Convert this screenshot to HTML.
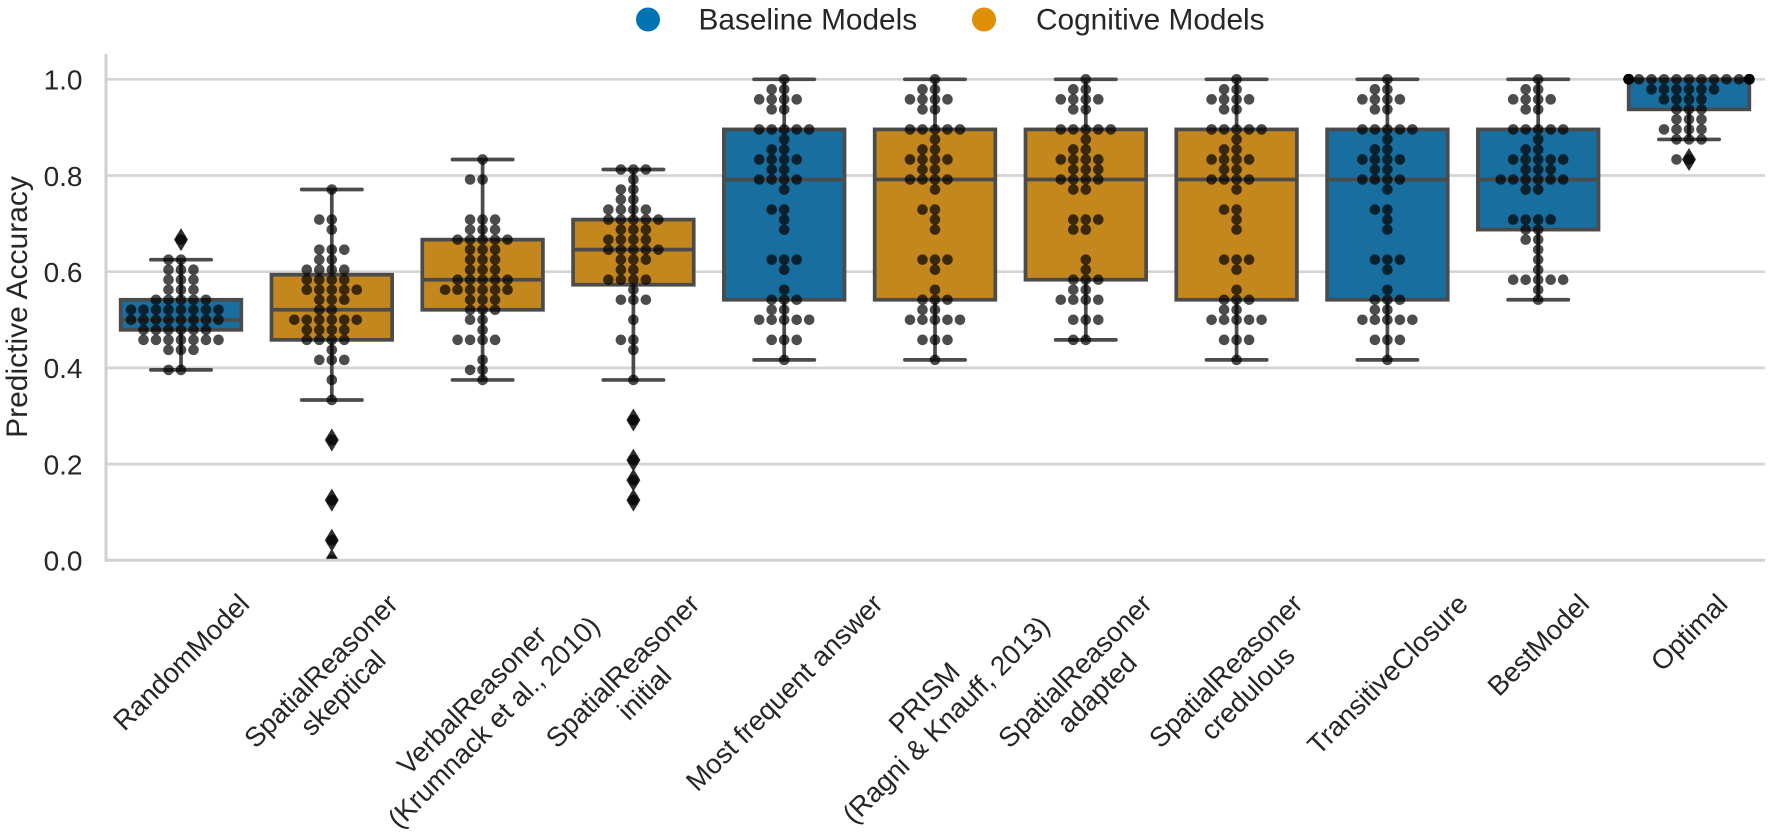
<!DOCTYPE html>
<html lang="en">
<head>
<meta charset="utf-8">
<title>Predictive Accuracy by Model</title>
<style>
html,body{margin:0;padding:0;background:#fff;}
body{width:1772px;height:832px;overflow:hidden;}
svg{display:block;}
text{font-family:"Liberation Sans",Arial,sans-serif;fill:#262626;}
</style>
</head>
<body>
<svg id="chart" xmlns="http://www.w3.org/2000/svg" width="1772" height="832" viewBox="0 0 1772 832">
  <defs>
    <clipPath id="plot-clip"><rect x="105.6" y="55" width="1660" height="505.8"/></clipPath>
  </defs>
  <g id="legend">
    <g>
      <circle cx="648" cy="19.5" r="12" fill="#0173b2"/>
      <text x="698.5" y="29.5" font-size="29.8">Baseline Models</text>
    </g>
    <g>
      <circle cx="984" cy="19.5" r="12" fill="#de8f05"/>
      <text x="1036" y="29.5" font-size="29.8">Cognitive Models</text>
    </g>
  </g>
  <g id="grid"></g>
  <g id="marks" clip-path="url(#plot-clip)"></g>
  <g id="spines">
    <line x1="106" y1="54" x2="106" y2="561.8" stroke="#d0d0d0" stroke-width="3"/>
    <line x1="104.5" y1="560.3" x2="1765" y2="560.3" stroke="#d0d0d0" stroke-width="3"/>
  </g>
  <g id="y-ticks"></g>
  <g id="x-ticks"></g>
  <text transform="translate(27,307) rotate(-90)" text-anchor="middle" font-size="30">Predictive Accuracy</text>
</svg>
<script>
// Scores are counted in correct answers out of 48 trials.
const TRIALS = 48;
const yTickValues = [0, 0.2, 0.4, 0.6, 0.8, 1];
const yTickLabels = ['0.0', '0.2', '0.4', '0.6', '0.8', '1.0'];

const modelLabels = [
  ['RandomModel'],
  ['SpatialReasoner', 'skeptical'],
  ['VerbalReasoner', '(Krumnack et al., 2010)'],
  ['SpatialReasoner', 'initial'],
  ['Most frequent answer'],
  ['PRISM', '(Ragni & Knauff, 2013)'],
  ['SpatialReasoner', 'adapted'],
  ['SpatialReasoner', 'credulous'],
  ['TransitiveClosure'],
  ['BestModel'],
  ['Optimal']
];
const modelGroups = ['baseline', 'cognitive', 'cognitive', 'cognitive', 'baseline', 'cognitive', 'cognitive', 'cognitive', 'baseline', 'baseline', 'baseline'];

const boxQ1 = [23, 22, 25, 27.5, 26, 26, 28, 26, 26, 33, 45];
const boxMedian = [24, 25, 28, 31, 38, 38, 38, 38, 38, 38, 48];
const boxQ3 = [26, 28.5, 32, 34, 43, 43, 43, 43, 43, 43, 48];
const whiskerLow = [19, 16, 18, 18, 20, 20, 22, 20, 20, 26, 42];
const whiskerHigh = [30, 37, 40, 39, 48, 48, 48, 48, 48, 48, 48];
const outliers = [[32], [12, 6, 2, 0], [], [14, 10, 8, 6], [], [], [], [], [], [], [40]];

const scoreLevels = [
  [32, 30, 29, 28, 27, 26, 25, 24, 23, 22, 21, 19],
  [37, 34, 33, 31, 30, 29, 28, 27, 26, 25, 24, 23, 22, 21, 20, 18, 16, 12, 6, 2, 0],
  [40, 38, 34, 33, 32, 31, 30, 29, 28, 27, 26, 25, 24, 23, 22, 20, 19, 18],
  [39, 38, 37, 36, 35, 34, 33, 32, 31, 30, 29, 28, 27, 26, 24, 22, 21, 18, 14, 10, 8, 6],
  [48, 47, 46, 45, 43, 42, 41, 40, 39, 38, 37, 35, 34, 33, 30, 29, 27, 26, 25, 24, 22, 20],
  [48, 47, 46, 45, 43, 42, 41, 40, 39, 38, 37, 35, 34, 33, 30, 29, 27, 26, 25, 24, 22, 20],
  [48, 47, 46, 45, 43, 42, 41, 40, 39, 38, 37, 34, 33, 30, 29, 28, 27, 26, 24, 22],
  [48, 47, 46, 45, 43, 42, 41, 40, 39, 38, 37, 35, 34, 33, 30, 29, 27, 26, 25, 24, 22, 20],
  [48, 47, 46, 45, 43, 42, 41, 40, 39, 38, 37, 35, 34, 33, 30, 29, 27, 26, 25, 24, 22, 20],
  [48, 47, 46, 45, 43, 42, 41, 40, 39, 38, 37, 34, 33, 32, 31, 30, 29, 28, 27, 26],
  [48, 47, 46, 45, 44, 43, 42, 40]
];
const scoreCounts = [
  [1, 2, 3, 3, 3, 5, 8, 8, 6, 7, 3, 2],
  [1, 2, 1, 3, 2, 4, 4, 5, 3, 2, 6, 4, 4, 1, 3, 1, 1, 1, 1, 1, 1],
  [1, 2, 3, 3, 5, 3, 3, 3, 5, 6, 3, 3, 2, 1, 4, 1, 2, 1],
  [3, 1, 2, 2, 4, 5, 3, 4, 5, 3, 2, 4, 1, 3, 1, 2, 1, 1, 1, 1, 1, 1],
  [1, 2, 4, 2, 5, 1, 2, 4, 2, 4, 1, 2, 1, 1, 3, 1, 1, 3, 2, 5, 3, 1],
  [1, 2, 4, 2, 5, 1, 2, 4, 2, 4, 1, 2, 1, 1, 3, 1, 1, 3, 2, 5, 3, 1],
  [1, 2, 4, 2, 5, 1, 2, 4, 3, 4, 2, 3, 2, 1, 1, 3, 2, 4, 3, 2],
  [1, 2, 4, 2, 5, 1, 2, 4, 2, 4, 1, 2, 1, 1, 3, 1, 1, 3, 2, 5, 3, 1],
  [1, 2, 4, 2, 5, 1, 2, 4, 2, 4, 1, 2, 1, 1, 3, 1, 1, 3, 2, 5, 3, 1],
  [1, 2, 4, 2, 5, 1, 2, 5, 3, 6, 2, 4, 2, 2, 1, 1, 1, 5, 1, 1],
  [26, 6, 4, 3, 3, 4, 3, 2]
];

const groupFill = { baseline: '#186e9f', cognitive: '#c4871e' };
const SVG_NS = 'http://www.w3.org/2000/svg';

const plotLeft = 105.6;
const bandWidth = 150.8;
const yZero = 560.3;
const yUnit = 481;
const boxWidth = bandWidth * 0.8;
const capWidth = bandWidth * 0.4;
const dotStep = 12.5;
const dotRadius = 5.3;

function xScale(i) { return plotLeft + bandWidth * (i + 0.5); }
function yScale(v) { return yZero - v * yUnit; }
function yScore(k) { return yScale(k / TRIALS); }

function make(tag, attrs, parent) {
  const el = document.createElementNS(SVG_NS, tag);
  Object.keys(attrs).forEach(function (k) { el.setAttribute(k, attrs[k]); });
  parent.appendChild(el);
  return el;
}
function slug(parts) {
  return parts.join('-').toLowerCase().replace(/[^a-z0-9]+/g, '-').replace(/^-|-$/g, '');
}

const gridLayer = document.getElementById('grid');
const marksLayer = document.getElementById('marks');
const yTickLayer = document.getElementById('y-ticks');
const xTickLayer = document.getElementById('x-ticks');

yTickValues.forEach(function (v, t) {
  if (v > 0) {
    const grid = make('line', { x1: plotLeft, x2: 1765, y1: yScale(v), y2: yScale(v), stroke: '#d4d4d4', 'stroke-width': 2.7 }, gridLayer);
    
    
  }
  const tick = make('text', { x: 82.5, y: yScale(v) + 10.3, 'text-anchor': 'end', 'font-size': 28 }, yTickLayer);
  
  
  tick.textContent = yTickLabels[t];
});

modelLabels.forEach(function (lines, i) {
  const cx = xScale(i);
  const group = make('g', {}, marksLayer);
  
  

  const stroke = { stroke: '#4b4b4b', 'stroke-width': 3.7 };
  const top = yScore(boxQ3[i]);
  const bottom = yScore(boxQ1[i]);

  const box = make('rect', { x: cx - boxWidth / 2, y: top, width: boxWidth, height: bottom - top, fill: groupFill[modelGroups[i]], stroke: stroke.stroke, 'stroke-width': stroke['stroke-width'] }, group);
  
  

  const whiskerUp = make('line', { x1: cx, x2: cx, y1: top, y2: yScore(whiskerHigh[i]), stroke: stroke.stroke, 'stroke-width': stroke['stroke-width'] }, group);
  
  

  const whiskerDown = make('line', { x1: cx, x2: cx, y1: bottom, y2: yScore(whiskerLow[i]), stroke: stroke.stroke, 'stroke-width': stroke['stroke-width'] }, group);
  
  

  const capUp = make('line', { x1: cx - capWidth / 2, x2: cx + capWidth / 2, y1: yScore(whiskerHigh[i]), y2: yScore(whiskerHigh[i]), stroke: stroke.stroke, 'stroke-width': stroke['stroke-width'], 'stroke-linecap': 'round' }, group);
  
  

  const capDown = make('line', { x1: cx - capWidth / 2, x2: cx + capWidth / 2, y1: yScore(whiskerLow[i]), y2: yScore(whiskerLow[i]), stroke: stroke.stroke, 'stroke-width': stroke['stroke-width'], 'stroke-linecap': 'round' }, group);
  
  

  const median = make('line', { x1: cx - boxWidth / 2, x2: cx + boxWidth / 2, y1: yScore(boxMedian[i]), y2: yScore(boxMedian[i]), stroke: stroke.stroke, 'stroke-width': stroke['stroke-width'] }, group);
  
  

  outliers[i].forEach(function (k) {
    const y = yScore(k);
    const d = 'M' + cx + ' ' + (y - 11.5) + 'L' + (cx + 7) + ' ' + y + 'L' + cx + ' ' + (y + 11.5) + 'L' + (cx - 7) + ' ' + y + 'Z';
    const flier = make('path', { d: d, fill: '#2e2e2e' }, group);
    
    
  });

  scoreLevels[i].forEach(function (k, r) {
    const n = scoreCounts[i][r];
    const first = -Math.floor(n / 2);
    for (let j = 0; j < n; j++) {
      const raw = (first + j) * dotStep;
      const off = Math.max(-boxWidth / 2, Math.min(boxWidth / 2, raw));
      const dot = make('circle', { cx: cx + off, cy: yScore(k), r: dotRadius, fill: '#000', 'fill-opacity': 0.7 }, group);
      
      
    }
  });

  // rotated tick label: the rotated bounding box is centred on the tick
  const label = make('g', {}, xTickLayer);
  
  
  lines.forEach(function (line, l) {
    const t = make('text', { x: 0, y: l * 31, 'text-anchor': 'middle', 'font-size': 27.5 }, label);
    
    
    t.textContent = line;
  });
  const bb = label.getBBox();
  const extent = (bb.width + bb.height) * Math.SQRT1_2;
  const midY = 588 + extent / 2;
  const bcx = bb.x + bb.width / 2;
  const bcy = bb.y + bb.height / 2;
  label.setAttribute('transform', 'translate(' + cx + ',' + midY + ') rotate(-45) translate(' + (-bcx) + ',' + (-bcy) + ')');
});
</script>
</body>
</html>
